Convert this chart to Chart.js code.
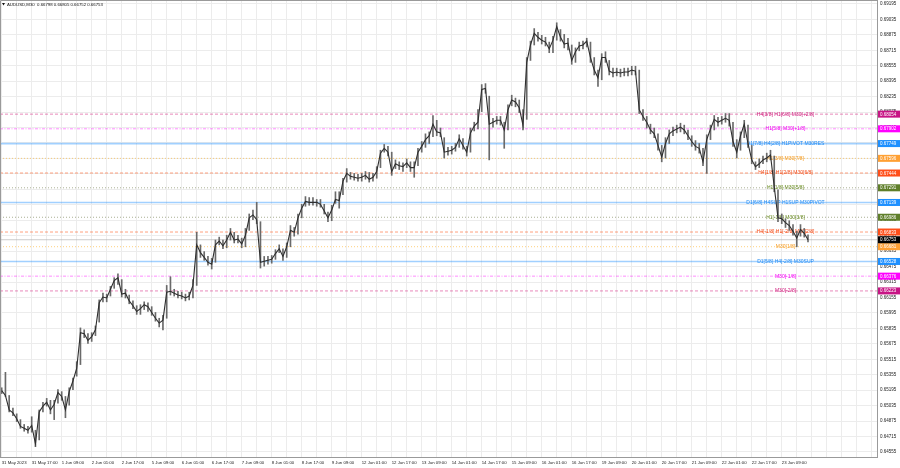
<!DOCTYPE html>
<html><head><meta charset="utf-8">
<script src="https://cdn.jsdelivr.net/npm/chart.js@4.4.1/dist/chart.umd.min.js"></script>
<style>html,body{margin:0;padding:0;background:#fff;overflow:hidden}canvas{display:block}</style>
</head><body>
<canvas id="c" width="900" height="468"></canvas>
<script>
// ---------- DATA ----------
const chartTitle = 'AUDUSD,M30  0.66798 0.66805 0.66752 0.66753';
const timeLabels = ['31 May 2023','31 May 17:00','1 Jun 09:00','2 Jun 01:00','2 Jun 17:00','5 Jun 09:00','6 Jun 01:00','6 Jun 17:00','7 Jun 09:00','8 Jun 01:00','8 Jun 17:00','9 Jun 09:00','12 Jun 01:00','12 Jun 17:00','13 Jun 09:00','14 Jun 01:00','14 Jun 17:00','15 Jun 09:00','16 Jun 01:00','16 Jun 17:00','19 Jun 09:00','20 Jun 01:00','20 Jun 17:00','21 Jun 09:00','22 Jun 01:00','22 Jun 17:00','23 Jun 09:00'];
const priceTicks = [0.64555,0.64715,0.64875,0.65035,0.65195,0.65355,0.65515,0.65675,0.65835,0.65995,0.66155,0.66315,0.66475,0.66635,0.66795,0.66955,0.67115,0.67275,0.67435,0.67595,0.67755,0.67915,0.68075,0.68235,0.68395,0.68555,0.68715,0.68875,0.69035,0.69195];
// one point every 4 M30 bars (2 hours)
const barsPerPoint = 4;
const closes = [
0.6519,0.6514,0.6499,0.6496,0.6490,0.6482,0.6480,0.6478,0.6483,0.6464,
0.6497,0.6503,0.6507,0.6499,0.6505,0.6517,0.6513,0.6499,0.6518,0.6529,
0.6542,0.6579,0.6578,0.6571,0.6575,0.6582,0.6610,0.6616,0.6615,0.6624,
0.6633,0.6636,0.6619,0.6620,0.6612,0.6607,0.6601,0.6604,0.6608,0.6606,
0.6600,0.6594,0.6589,0.6592,0.6621,0.6622,0.6620,0.6618,0.6617,0.6615,
0.6617,0.6628,0.6670,0.6662,0.6657,0.6652,0.6650,0.6670,0.6674,0.6669,
0.6675,0.6683,0.6675,0.6676,0.6671,0.6680,0.6698,0.6701,0.6696,0.6652,
0.6653,0.6654,0.6655,0.6661,0.6666,0.6658,0.6668,0.6685,0.6683,0.6698,
0.6708,0.6715,0.6714,0.6714,0.6714,0.6712,0.6705,0.6698,0.6706,0.6717,
0.6716,0.6736,0.6744,0.6741,0.6740,0.6739,0.6740,0.6742,0.6738,0.6740,
0.6746,0.6765,0.6770,0.6766,0.6746,0.6754,0.6752,0.6751,0.6755,0.6750,
0.6750,0.6766,0.6772,0.6779,0.6783,0.6795,0.6787,0.6786,0.6766,0.6767,
0.6768,0.6771,0.6780,0.6773,0.6766,0.6786,0.6793,0.6797,0.6831,0.6832,
0.6795,0.6797,0.6799,0.6799,0.6789,0.6810,0.6820,0.6818,0.6812,0.6794,
0.6859,0.6877,0.6889,0.6885,0.6882,0.6880,0.6873,0.6882,0.6896,0.6885,
0.6878,0.6879,0.6861,0.6870,0.6876,0.6877,0.6881,0.6864,0.6851,0.6843,
0.6864,0.6864,0.6850,0.6848,0.6849,0.6848,0.6849,0.6849,0.6851,0.6850,
0.6810,0.6803,0.6797,0.6789,0.6785,0.6773,0.6761,0.6775,0.6785,0.6788,
0.6790,0.6792,0.6789,0.6783,0.6777,0.6772,0.6770,0.6756,0.6779,0.6790,
0.6800,0.6797,0.6799,0.6801,0.6799,0.6777,0.6766,0.6783,0.6795,0.6775,
0.6758,0.6751,0.6754,0.6758,0.6760,0.6763,0.6730,0.6698,0.6697,0.6693,
0.6690,0.6684,0.6677,0.6686,0.6682,0.66753];
const highs = [
0.6522,0.6538,0.6514,0.6501,0.6495,0.6489,0.6484,0.6482,0.6492,0.6478,
0.6499,0.6507,0.6511,0.6509,0.6509,0.6520,0.6518,0.6513,0.6522,0.6532,
0.6549,0.6584,0.6582,0.6578,0.6579,0.6586,0.6613,0.6620,0.6619,0.6627,
0.6636,0.6640,0.6634,0.6624,0.6618,0.6612,0.6607,0.6608,0.6611,0.6610,
0.6606,0.6600,0.6594,0.6597,0.6628,0.6637,0.6624,0.6622,0.6621,0.6619,
0.6621,0.6634,0.6683,0.6670,0.6663,0.6658,0.6656,0.6675,0.6678,0.6675,
0.6680,0.6687,0.6683,0.6680,0.6677,0.6687,0.6702,0.6706,0.6714,0.6694,
0.6658,0.6658,0.6659,0.6665,0.6670,0.6666,0.6672,0.6690,0.6688,0.6702,
0.6712,0.6720,0.6719,0.6719,0.6717,0.6717,0.6712,0.6704,0.6711,0.6725,
0.6725,0.6739,0.6749,0.6745,0.6744,0.6743,0.6744,0.6746,0.6745,0.6744,
0.6751,0.6768,0.6774,0.6772,0.6766,0.6758,0.6756,0.6755,0.6759,0.6756,
0.6756,0.6770,0.6777,0.6785,0.6787,0.6804,0.6799,0.6791,0.6781,0.6771,
0.6772,0.6775,0.6784,0.6780,0.6772,0.6791,0.6797,0.6810,0.6836,0.6837,
0.6824,0.6801,0.6803,0.6803,0.6797,0.6815,0.6825,0.6822,0.6820,0.6810,
0.6864,0.6881,0.6894,0.6890,0.6887,0.6885,0.6880,0.6886,0.6900,0.6893,
0.6888,0.6884,0.6877,0.6874,0.6880,0.6881,0.6884,0.6880,0.6864,0.6851,
0.6868,0.6870,0.6861,0.6853,0.6853,0.6852,0.6853,0.6853,0.6855,0.6855,
0.6851,0.6810,0.6803,0.6795,0.6791,0.6785,0.6773,0.6781,0.6789,0.6792,
0.6794,0.6796,0.6794,0.6789,0.6783,0.6778,0.6775,0.6770,0.6784,0.6794,
0.6804,0.6802,0.6803,0.6806,0.6806,0.6797,0.6779,0.6787,0.6799,0.6794,
0.6773,0.6756,0.6759,0.6762,0.6765,0.6768,0.6762,0.6727,0.6702,0.6697,
0.6695,0.6691,0.6684,0.6691,0.6687,0.66805];
const lows = [
0.6516,0.6513,0.6497,0.6493,0.6487,0.6480,0.6477,0.6475,0.6476,0.6461,
0.6468,0.6497,0.6503,0.6495,0.6489,0.6506,0.6509,0.6491,0.6504,0.6520,
0.6534,0.6546,0.6574,0.6568,0.6570,0.6576,0.6590,0.6611,0.6611,0.6617,
0.6625,0.6629,0.6616,0.6615,0.6609,0.6604,0.6598,0.6598,0.6603,0.6601,
0.6597,0.6591,0.6585,0.6582,0.6594,0.6618,0.6617,0.6615,0.6614,0.6612,
0.6613,0.6615,0.6628,0.6657,0.6654,0.6649,0.6645,0.6652,0.6670,0.6666,
0.6667,0.6675,0.6672,0.6672,0.6667,0.6668,0.6685,0.6696,0.6692,0.6646,
0.6648,0.6650,0.6651,0.6655,0.6662,0.6654,0.6657,0.6668,0.6679,0.6681,
0.6698,0.6710,0.6711,0.6711,0.6710,0.6709,0.6702,0.6694,0.6695,0.6713,
0.6708,0.6722,0.6735,0.6738,0.6737,0.6736,0.6736,0.6738,0.6735,0.6736,
0.6739,0.6750,0.6766,0.6762,0.6742,0.6749,0.6748,0.6746,0.6750,0.6746,
0.6740,0.6752,0.6766,0.6771,0.6775,0.6782,0.6783,0.6782,0.6760,0.6763,
0.6764,0.6767,0.6771,0.6769,0.6762,0.6766,0.6788,0.6790,0.6808,0.6827,
0.6758,0.6792,0.6795,0.6794,0.6770,0.6789,0.6814,0.6813,0.6807,0.6789,
0.6800,0.6861,0.6877,0.6881,0.6878,0.6876,0.6869,0.6869,0.6882,0.6881,
0.6874,0.6872,0.6857,0.6859,0.6871,0.6873,0.6875,0.6859,0.6846,0.6834,
0.6841,0.6859,0.6846,0.6844,0.6845,0.6844,0.6845,0.6845,0.6846,0.6846,
0.6806,0.6799,0.6791,0.6785,0.6781,0.6768,0.6756,0.6760,0.6775,0.6783,
0.6786,0.6787,0.6785,0.6779,0.6772,0.6768,0.6765,0.6752,0.6744,0.6779,
0.6789,0.6793,0.6795,0.6797,0.6793,0.6772,0.6760,0.6768,0.6781,0.6771,
0.6754,0.6748,0.6750,0.6754,0.6756,0.6758,0.6725,0.6694,0.6692,0.6688,
0.6685,0.6680,0.6668,0.6679,0.6678,0.6673];
const bidPrice = 0.66753;
const levelPrices = [0.68054,0.67902,0.67749,0.67596,0.67444,0.67291,0.67139,0.66986,0.66833,0.66681,0.66528,0.66376,0.66223];
const levelNames = ['H4[3/8] H1[6/8] M30[+2/8]','H1[5/8] M30[+1/8]','D1[7/8] H4[2/8] H1PIVOT M30RES','H1[3/8] M30[7/8]','H4[1/8] H1[2/8] M30[6/8]','H1[1/8] M30[5/8]','D1[6/8] H4SUP H1SUP M30PIVOT','H1[-1/8] M30[3/8]','H4[-1/8] H1[-2/8] M30[2/8]','M30[1/8]','D1[5/8] H4[-2/8] M30SUP','M30[-1/8]','M30[-2/8]'];
const levelKinds = ['pink','magenta','blue','orange','red','olive','blue','olive','red','orange','blue','magenta','pink'];

// ---------- STYLES ----------
const kindStyle = {
  pink:    {box:'#c71585', text:'#d0207f', line:'rgba(214,40,130,0.55)', dash:[3,2], w:1},
  magenta: {box:'#ff00ff', text:'#f000f0', line:'rgba(255,0,255,0.45)', dash:[3,1.5,1,1.5], w:1},
  blue:    {box:'#1e90ff', text:'#1e88f0', line:'rgba(30,144,255,0.42)', dash:[], w:1.6},
  orange:  {box:'#ffa033', text:'#f59a20', line:'rgba(255,165,0,0.5)', dash:[1,2], w:1},
  red:     {box:'#ff4f1a', text:'#f25020', line:'rgba(255,69,0,0.5)', dash:[3,2], w:1},
  olive:   {box:'#5f7f2a', text:'#6b8e23', line:'rgba(100,110,60,0.55)', dash:[1,2], w:1}
};
const X_MIN = -1.8, X_MAX = 933.6;
const LABEL_BAR = 836;
const FONT = 'Liberation Sans, Arial, sans-serif';

const closePts = closes.map((c, k) => ({x: k * barsPerPoint, y: c}));
const rangePts = closes.map((c, k) => ({x: k * barsPerPoint, y: [lows[k], highs[k]]}));

const datasets = [];
levelPrices.forEach((p, j) => {
  const st = kindStyle[levelKinds[j]];
  datasets.push({type:'line', data:[{x:X_MIN,y:p},{x:X_MAX,y:p}], borderColor:st.line, borderWidth:st.w,
    borderDash:st.dash, pointRadius:0, order:6});
});
datasets.push({type:'line', data:[{x:X_MIN,y:bidPrice},{x:X_MAX,y:bidPrice}], borderColor:'rgba(170,170,170,0.6)', borderWidth:1, pointRadius:0, order:5});
datasets.push({type:'bar', data:rangePts, backgroundColor:'#6a6a6a', barThickness:1, grouped:false, order:3});
datasets.push({type:'line', data:closePts, borderColor:'#2e2e2e', borderWidth:1.1, pointRadius:0, tension:0, order:2});

const overlay = {
  id:'overlay',
  beforeDatasetsDraw(chart){
    const ctx = chart.ctx, xs = chart.scales.x, ys = chart.scales.y;
    ctx.save();
    ctx.font = '5px ' + FONT;
    ctx.textAlign = 'center'; ctx.textBaseline = 'middle';
    levelPrices.forEach((p, j) => {
      ctx.fillStyle = kindStyle[levelKinds[j]].text;
      ctx.fillText(levelNames[j], xs.getPixelForValue(LABEL_BAR), ys.getPixelForValue(p));
    });
    ctx.restore();
  },
  afterDraw(chart){
    const ctx = chart.ctx, ca = chart.chartArea, ys = chart.scales.y;
    ctx.save();
    ctx.strokeStyle = '#9a9a9a'; ctx.lineWidth = 1;
    ctx.beginPath();
    ctx.moveTo(0.5, ca.bottom); ctx.lineTo(0.5, 0.5); ctx.lineTo(ca.right, 0.5);
    ctx.stroke();
    // title
    ctx.fillStyle = '#111'; ctx.textBaseline = 'middle'; ctx.textAlign = 'left';
    ctx.font = '4.3px ' + FONT;
    ctx.beginPath(); ctx.moveTo(2, 3); ctx.lineTo(5, 3); ctx.lineTo(3.5, 5.5); ctx.closePath(); ctx.fill();
    ctx.fillText(chartTitle, 7, 4.5);
    // price boxes on axis
    const boxes = levelPrices.map((p, j) => ({p, bg:kindStyle[levelKinds[j]].box}));
    boxes.push({p:bidPrice, bg:'#000'});
    ctx.font = '4.5px ' + FONT;
    boxes.forEach(b => {
      const y = ys.getPixelForValue(b.p);
      ctx.fillStyle = b.bg; ctx.fillRect(ca.right + 1, y - 3.5, 23, 7);
      ctx.fillStyle = '#fff'; ctx.fillText(b.p.toFixed(5), ca.right + 3, y + 0.3);
    });
    ctx.restore();
  }
};

function noPad(s){ s.paddingTop = 0; s.paddingBottom = 0; s.paddingLeft = 0; s.paddingRight = 0; }

new Chart(document.getElementById('c'), {
  type:'bar',
  data:{datasets},
  plugins:[overlay],
  options:{
    responsive:false, animation:false, devicePixelRatio:1,
    layout:{padding:0},
    plugins:{legend:{display:false}, tooltip:{enabled:false}, title:{display:false}},
    events:[],
    scales:{
      x:{type:'linear', min:X_MIN, max:X_MAX, offset:false, bounds:'ticks',
        afterFit(s){ s.height = 11; noPad(s); },
        afterBuildTicks(s){ const t=[]; for(let v=0; v<=X_MAX; v+=16) t.push({value:v}); s.ticks=t; },
        grid:{color:'#ececec', drawTicks:false, offset:false},
        border:{display:true, color:'#9a9a9a'},
        ticks:{autoSkip:false, maxRotation:0, minRotation:0, align:'start', padding:3, color:'#222',
          font:{size:4.3, family:FONT},
          callback(v){ return (v % 32 === 0 && timeLabels[v/32]) ? timeLabels[v/32] : ''; }}
      },
      y:{type:'linear', position:'right', min:0.64503, max:0.69236,
        afterFit(s){ s.width = 23; noPad(s); },
        afterBuildTicks(s){ s.ticks = priceTicks.map(v => ({value:v})); },
        grid:{color:'#ececec', drawTicks:false},
        border:{display:true, color:'#9a9a9a'},
        ticks:{padding:3, color:'#222', font:{size:4.5, family:FONT},
          callback(v){ return v.toFixed(5); }}
      }
    }
  }
});
</script>
</body></html>
